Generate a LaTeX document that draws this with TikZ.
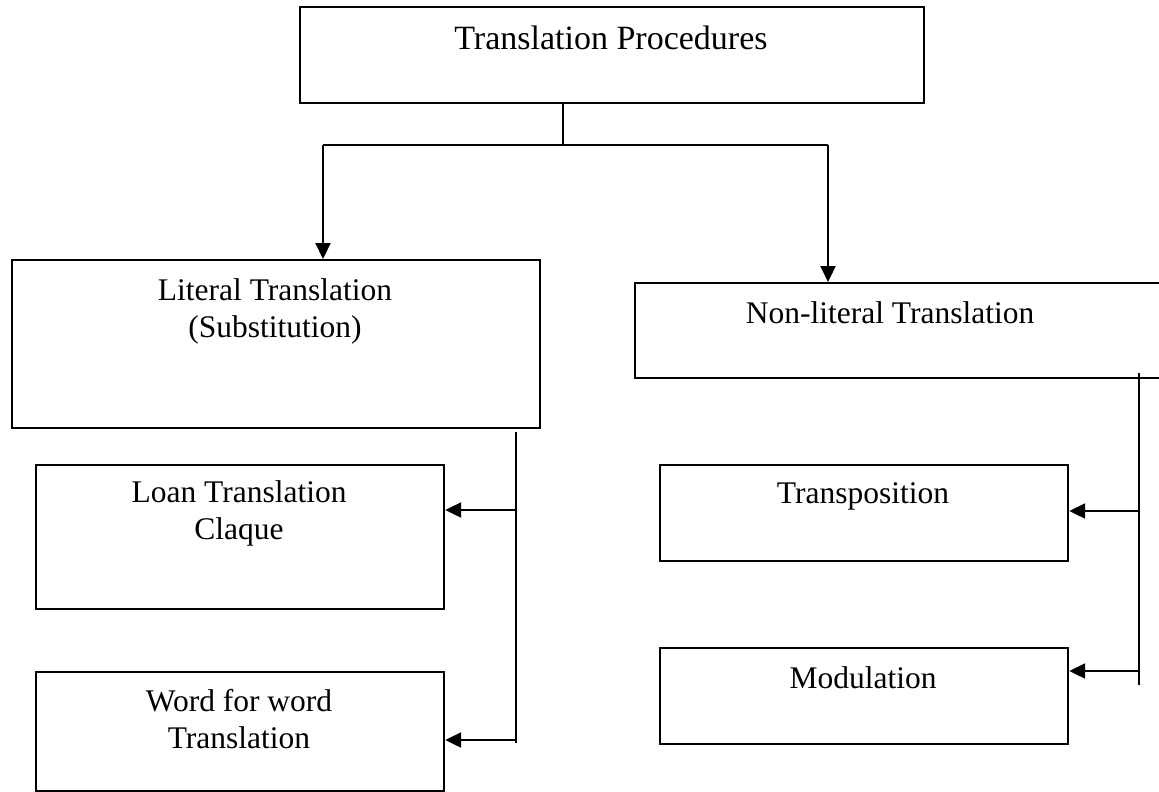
\documentclass[tikz,border=0pt]{standalone}
\usepackage{fontspec}
\setmainfont{Liberation Serif}
\usetikzlibrary{arrows.meta}
\tikzset{
  box/.style={draw, line width=1.1pt, rectangle, inner sep=0pt, anchor=north west},
  txt/.style={align=center, inner sep=0pt, font=\fontsize{15.75}{18.5}\selectfont},
  ttl/.style={align=center, inner sep=0pt, font=\fontsize{17}{20}\selectfont},
  conn/.style={line width=1.1pt},
  arr/.style={line width=1.1pt, -{Triangle[length=8pt,width=7.5pt]}}
}
\begin{document}
\begin{tikzpicture}[x=0.5pt,y=-0.5pt]
\useasboundingbox (0,0) rectangle (1159,791);
\clip (0,0) rectangle (1159,791);
% boxes
\node[box, minimum width=312pt, minimum height=48pt] (top) at (299,6) {};
\node[ttl] (toptxt) at (611,38) {Translation Procedures};
\node[box, minimum width=264pt, minimum height=84pt] (lit) at (11,259) {};
\node[txt] (littxt) at (275,311) {Literal Translation\\(Substitution)};
\node[box, minimum width=280pt, minimum height=47.5pt] (non) at (634,282) {};
\node[txt] (nontxt) at (890,313) {Non-literal Translation};
\node[box, minimum width=204pt, minimum height=72pt] (loan) at (35,464) {};
\node[txt] (loantxt) at (239,513) {Loan Translation\\Claque};
\node[box, minimum width=204pt, minimum height=59.5pt] (word) at (35,671) {};
\node[txt] (wordtxt) at (239,719) {Word for word\\Translation};
\node[box, minimum width=204pt, minimum height=48pt] (trans) at (659,464) {};
\node[txt] (transtxt) at (863,496) {Transposition};
\node[box, minimum width=204pt, minimum height=48pt] (mod) at (659,647) {};
\node[txt] (modtxt) at (863,678) {Modulation};
% top connectors
\coordinate (j) at (563,145);
\coordinate (jl) at (323,145);
\coordinate (jr) at (828,145);
\draw[conn] (top.south -| j) -- (j);
\draw[conn] (jl) -- (jr);
\draw[arr] (jl) -- (jl |- lit.north);
\draw[arr] (jr) -- (jr |- non.north);
% left spine
\coordinate (ls1) at (516,432);
\coordinate (ls2) at (516,743);
\coordinate (la) at (516,510);
\coordinate (lb) at (516,740);
\draw[conn] (ls1) -- (ls2);
\draw[arr] (la) -- (la -| loan.east);
\draw[arr] (lb) -- (lb -| word.east);
% right spine
\coordinate (rs1) at (1139,373);
\coordinate (rs2) at (1139,685);
\coordinate (ra) at (1139,511);
\coordinate (rb) at (1139,671);
\draw[conn] (rs1) -- (rs2);
\draw[arr] (ra) -- (ra -| trans.east);
\draw[arr] (rb) -- (rb -| mod.east);
\end{tikzpicture}
\end{document}
